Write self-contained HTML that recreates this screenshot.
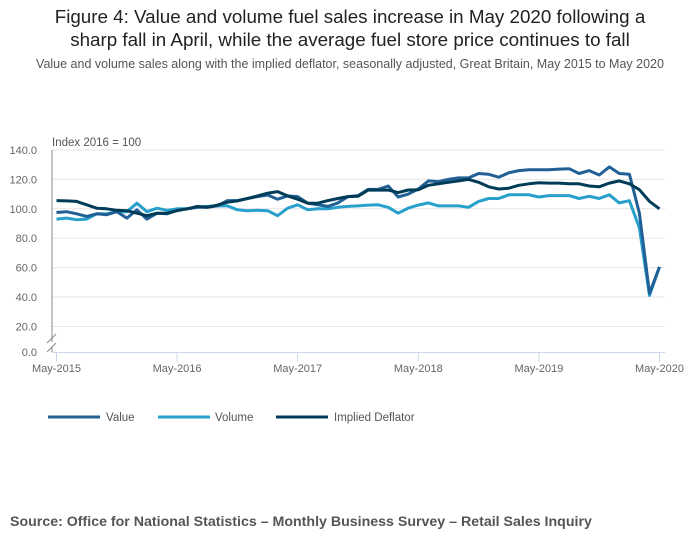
<!DOCTYPE html>
<html><head><meta charset="utf-8"><style>
body{margin:0;background:#fff;width:700px;height:549px;overflow:hidden;font-family:"Liberation Sans",sans-serif}
</style></head><body>
<svg id="s" width="700" height="549" xmlns="http://www.w3.org/2000/svg" font-family="Liberation Sans, sans-serif">
<text x="350" y="23" text-anchor="middle" font-size="18.8" fill="#222">Figure 4: Value and volume fuel sales increase in May 2020 following a</text>
<text x="350" y="46" text-anchor="middle" font-size="18.8" fill="#222">sharp fall in April, while the average fuel store price continues to fall</text>
<text x="350" y="68" text-anchor="middle" font-size="12.5" fill="#555">Value and volume sales along with the implied deflator, seasonally adjusted, Great Britain, May 2015 to May 2020</text>
<text x="52" y="146" font-size="11.5" fill="#555">Index 2016 = 100</text>
<g id="grid"></g>
<g id="lines"></g>
<g transform="translate(0,417)">
<line x1="48" y1="0" x2="100" y2="0" stroke="#206095" stroke-width="3"/><text x="106" y="4" font-size="11.5" fill="#555">Value</text>
<line x1="158" y1="0" x2="210" y2="0" stroke="#27a0cc" stroke-width="3"/><text x="215" y="4" font-size="11.5" fill="#555">Volume</text>
<line x1="276" y1="0" x2="328" y2="0" stroke="#003c57" stroke-width="3"/><text x="334" y="4" font-size="11.5" fill="#555">Implied Deflator</text>
</g>
<text x="10" y="526" font-size="14.2" font-weight="bold" fill="#555">Source: Office for National Statistics – Monthly Business Survey – Retail Sales Inquiry</text>
</svg>
<script>
var NS="http://www.w3.org/2000/svg";
function el(p,t,a,txt){var e=document.createElementNS(NS,t);for(var k in a)e.setAttribute(k,a[k]);if(txt)e.textContent=txt;p.appendChild(e);return e;}
var g=document.getElementById('grid');
function Y(v){return 150+(140-v)*1.47;}
function X(i){return 56.5+i*10.05;}
for(var v=20;v<=140;v+=20){el(g,'line',{x1:52,x2:665,y1:Y(v),y2:Y(v),stroke:'#e6e6e6','stroke-width':1});
el(g,'text',{x:37,y:Y(v)+4,'text-anchor':'end','font-size':11,fill:'#666'},v.toFixed(1));}
el(g,'text',{x:37,y:356,'text-anchor':'end','font-size':11,fill:'#666'},'0.0');
el(g,'line',{x1:52,x2:665,y1:352.5,y2:352.5,stroke:'#ccd6eb','stroke-width':1});
el(g,'line',{x1:52,x2:52,y1:150,y2:342,stroke:'#888','stroke-width':1});
el(g,'line',{x1:52,x2:52,y1:347,y2:352,stroke:'#888','stroke-width':1});
el(g,'line',{x1:47,x2:56,y1:343,y2:334,stroke:'#888','stroke-width':1});
el(g,'line',{x1:47,x2:56,y1:352,y2:343,stroke:'#888','stroke-width':1});
var labs=['May-2015','May-2016','May-2017','May-2018','May-2019','May-2020'];
for(var j=0;j<6;j++){var x=X(j*12);el(g,'line',{x1:x,x2:x,y1:352,y2:362,stroke:'#ccd6eb'});
el(g,'text',{x:x,y:372,'text-anchor':'middle','font-size':11,fill:'#666'},labs[j]);}
var vol=[93,93.7,92.6,93,96.6,96.5,98,98,103.8,98,100.4,99,100,100,101,101.6,102,102,99.3,98.7,99,98.7,95.3,100.4,102.7,99.3,100,100,101,101.6,102,102.5,102.7,101,97,100.5,102.5,104,102,102,102,101,105,107,107,109.5,109.5,109.5,108,109,109,109,107,108.5,107,109.5,104,105.5,87,41,60.5];
var val=[97.5,98,96.6,94.8,96.6,96,98,93.7,99.3,93,97,96.6,99,100,101,101,102,105.6,105.6,107,108.3,109.4,106.5,108.8,108.3,103.8,102.7,101.6,104,108.3,109,113.2,113.2,115.5,108,110,113.5,119,118.5,120,121,121,124,123.5,121.5,124.5,126,126.5,126.5,126.5,127,127.3,124,126,123,128.5,124,123.5,97,42.5,60.5];
var def=[105.6,105.4,105,102.7,100.4,100,99,98.7,97,95.3,97,97,98.7,100,101.6,101,102.5,104.5,105.4,107,108.8,110.6,111.7,108.8,106.5,103.8,103.8,105.6,107,108.3,108.5,112.7,112.7,112.7,111,112.8,113,116,117,118,119,120,118,115,113.5,114,116,117,117.7,117.5,117.5,117,117,115.5,115,117.5,119,117,113,105,100];
var L=document.getElementById('lines');
[[vol,'#27a0cc'],[val,'#206095'],[def,'#003c57']].forEach(function(s){
var pts=s[0].map(function(v,i){return X(i).toFixed(1)+','+Y(v).toFixed(1);}).join(' ');
el(L,'polyline',{points:pts,fill:'none',stroke:s[1],'stroke-width':3,'stroke-linejoin':'round'});});
</script>
</body></html>
